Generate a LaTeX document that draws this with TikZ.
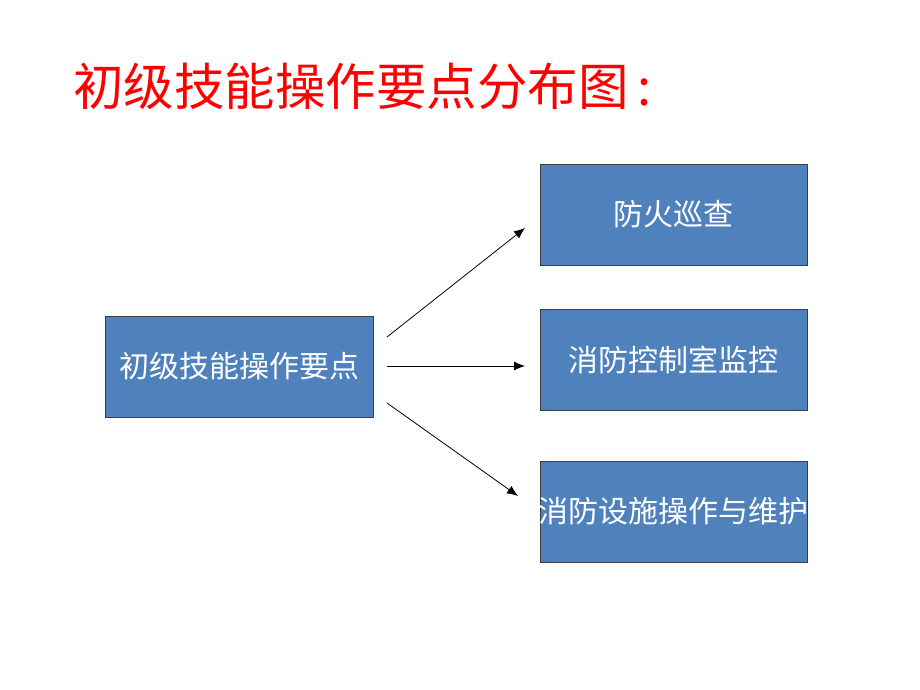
\documentclass[tikz,border=0pt]{standalone}
\usepackage{fontspec}
\newfontfamily\cjk{Noto Sans CJK SC}
\usetikzlibrary{arrows.meta}
\definecolor{boxblue}{RGB}{79,129,189}
\definecolor{boxline}{RGB}{60,60,70}
\definecolor{titlered}{RGB}{255,0,0}
\tikzset{
  bluebox/.style={draw=boxline, line width=0.9pt, fill=boxblue, minimum width=267pt, minimum height=101pt, inner sep=0pt, text=white, font=\cjk\fontsize{30pt}{33pt}\selectfont},
  conn/.style={draw=black, line width=0.8pt, -{Latex[length=11pt,width=9pt]}}
}
\begin{document}
\begin{tikzpicture}[x=1pt,y=-1pt]
\useasboundingbox (0,0) rectangle (920,690);
\node[anchor=west, text=titlered, font=\cjk\fontsize{50.5pt}{55pt}\selectfont, inner sep=0pt] (title) at (73,86) {初级技能操作要点分布图\,:};
\node[bluebox, minimum width=268pt] (main) at (239,366.5) {初级技能操作要点};
\node[bluebox] (b1) at (673.5,214.5) {防火巡查};
\node[bluebox] (b2) at (673.5,359.5) {消防控制室监控};
\node[bluebox] (b3) at (673.5,511.5) {\makebox[0pt][c]{消防设施操作与维护}};
\coordinate (s1) at (387,337);
\coordinate (s2) at (387,366);
\coordinate (s3) at (387,403);
\coordinate (e1) at (525,228);
\coordinate (e2) at (525,366);
\coordinate (e3) at (518,496);
\draw[conn] (s1) -- (e1);
\draw[conn] (s2) -- (e2);
\draw[conn] (s3) -- (e3);
\end{tikzpicture}
\end{document}
